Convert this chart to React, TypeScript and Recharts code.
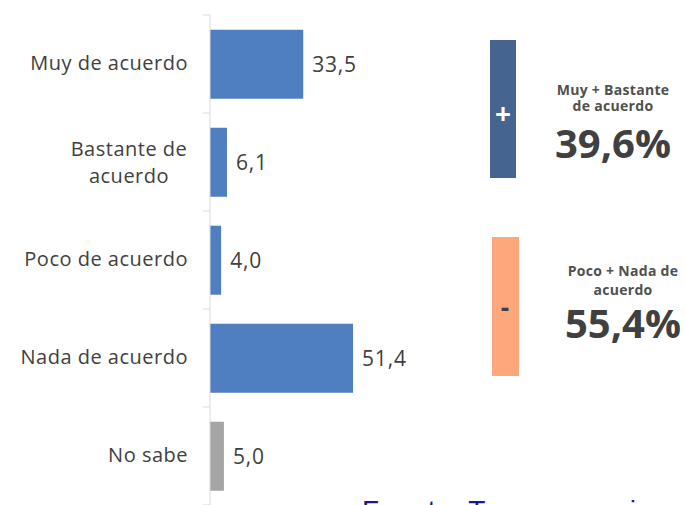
import React from 'react';
import { BarChart, Bar, XAxis, YAxis, LabelList, Cell } from 'recharts';

// survey answers and percentages
const categories = ['Muy de acuerdo', 'Bastante de acuerdo', 'Poco de acuerdo', 'Nada de acuerdo', 'No sabe'];
const values = [33.5, 6.1, 4.0, 51.4, 5.0];
const barColors = ['#4f7fc0', '#4f7fc0', '#4f7fc0', '#4f7fc0', '#a5a5a5'];

const summaryLabels = [['Muy + Bastante', 'de acuerdo'], ['Poco + Nada de', 'acuerdo']];
const summaryValues = ['39,6%', '55,4%'];

const W = 685;
const H = 505;
const TOP = 15;
const BAND = (H - TOP) / categories.length;
const FONT = '"Open Sans", sans-serif';

const data = categories.map((name, i) => ({ name, value: values[i], color: barColors[i] }));

const fmt = (v: number) => v.toFixed(1).replace('.', ',');

const CategoryTick = (props: any) => {
  const { x, y, payload, index } = props;
  const label: string = payload.value;
  const right = x - 22;
  const lines = label === 'Bastante de acuerdo' ? ['Bastante de', 'acuerdo'] : [label];
  const textStyle = { fontSize: 20, fill: '#404040', fontFamily: FONT, letterSpacing: 0.5 };
  return (
    <g>
      <line x1={x - 7} x2={x} y1={y - BAND / 2} y2={y - BAND / 2} stroke="#d9d9d9" />
      {index === categories.length - 1 && (
        <line x1={x - 7} x2={x} y1={y + BAND / 2} y2={y + BAND / 2} stroke="#d9d9d9" />
      )}
      {lines.length === 1 ? (
        <text x={right} y={y} dy={6} textAnchor="end" style={textStyle}>
          {label}
        </text>
      ) : (
        lines.map((l, k) => (
          <text key={k} x={right - 59} y={y - 12 + k * 27} dy={6} textAnchor="middle" style={textStyle}>
            {l}
          </text>
        ))
      )}
    </g>
  );
};

export default function App() {
  return (
    <div style={{ position: 'absolute', left: 0, top: 0, width: W, height: H, background: '#fff' }}>
      <BarChart
        width={W}
        height={H}
        data={data}
        layout="vertical"
        margin={{ top: TOP, right: 308, bottom: 0, left: 0 }}
        barCategoryGap="15%"
      >
        <XAxis type="number" domain={[0, 60]} hide />
        <YAxis
          type="category"
          dataKey="name"
          width={210}
          axisLine={{ stroke: '#d9d9d9' }}
          tickLine={false}
          tickSize={0}
          tickMargin={0}
          tick={<CategoryTick />}
          interval={0}
        />
        <Bar dataKey="value" isAnimationActive={false}>
          {data.map((d, i) => (
            <Cell key={i} fill={d.color} />
          ))}
          <LabelList
            dataKey="value"
            position="right"
            offset={9}
            formatter={(v: any) => fmt(Number(v))}
            style={{ fontSize: 21, fill: '#404040', fontFamily: FONT, letterSpacing: 0.8 }}
          />
        </Bar>
      </BarChart>
      <svg width={W} height={H} style={{ position: 'absolute', left: 0, top: 0, pointerEvents: 'none' }}>
        <rect x={490} y={40} width={26} height={138} fill="#45648f" />
        <text x={503} y={124} textAnchor="middle" fontSize={28} fontWeight="bold" fill="#fff" fontFamily={FONT}>+</text>
        <text x={613} y={95} textAnchor="middle" fontSize={14} fontWeight="bold" fill="#505050" fontFamily={FONT} letterSpacing={0.3}>{summaryLabels[0][0]}</text>
        <text x={613} y={111} textAnchor="middle" fontSize={14} fontWeight="bold" fill="#505050" fontFamily={FONT} letterSpacing={0.3}>{summaryLabels[0][1]}</text>
        <text x={613} y={158} textAnchor="middle" fontSize={40} fontWeight="bold" fill="#404040" fontFamily={FONT}>{summaryValues[0]}</text>

        <rect x={492} y={237} width={27} height={139} fill="#ffa77c" />
        <text x={505} y={317} textAnchor="middle" fontSize={26} fontWeight="bold" fill="#404040" fontFamily={FONT}>-</text>
        <text x={623} y={276} textAnchor="middle" fontSize={14} fontWeight="bold" fill="#505050" fontFamily={FONT} letterSpacing={0.3}>{summaryLabels[1][0]}</text>
        <text x={623} y={295} textAnchor="middle" fontSize={14} fontWeight="bold" fill="#505050" fontFamily={FONT} letterSpacing={0.3}>{summaryLabels[1][1]}</text>
        <text x={623} y={338} textAnchor="middle" fontSize={40} fontWeight="bold" fill="#404040" fontFamily={FONT}>{summaryValues[1]}</text>

        <text x={362} y={520} fontSize={28} fill="#1a1a8c" fontFamily="Arial, sans-serif" letterSpacing={0.5}>Fuente: Transparencia</text>
      </svg>
    </div>
  );
}
